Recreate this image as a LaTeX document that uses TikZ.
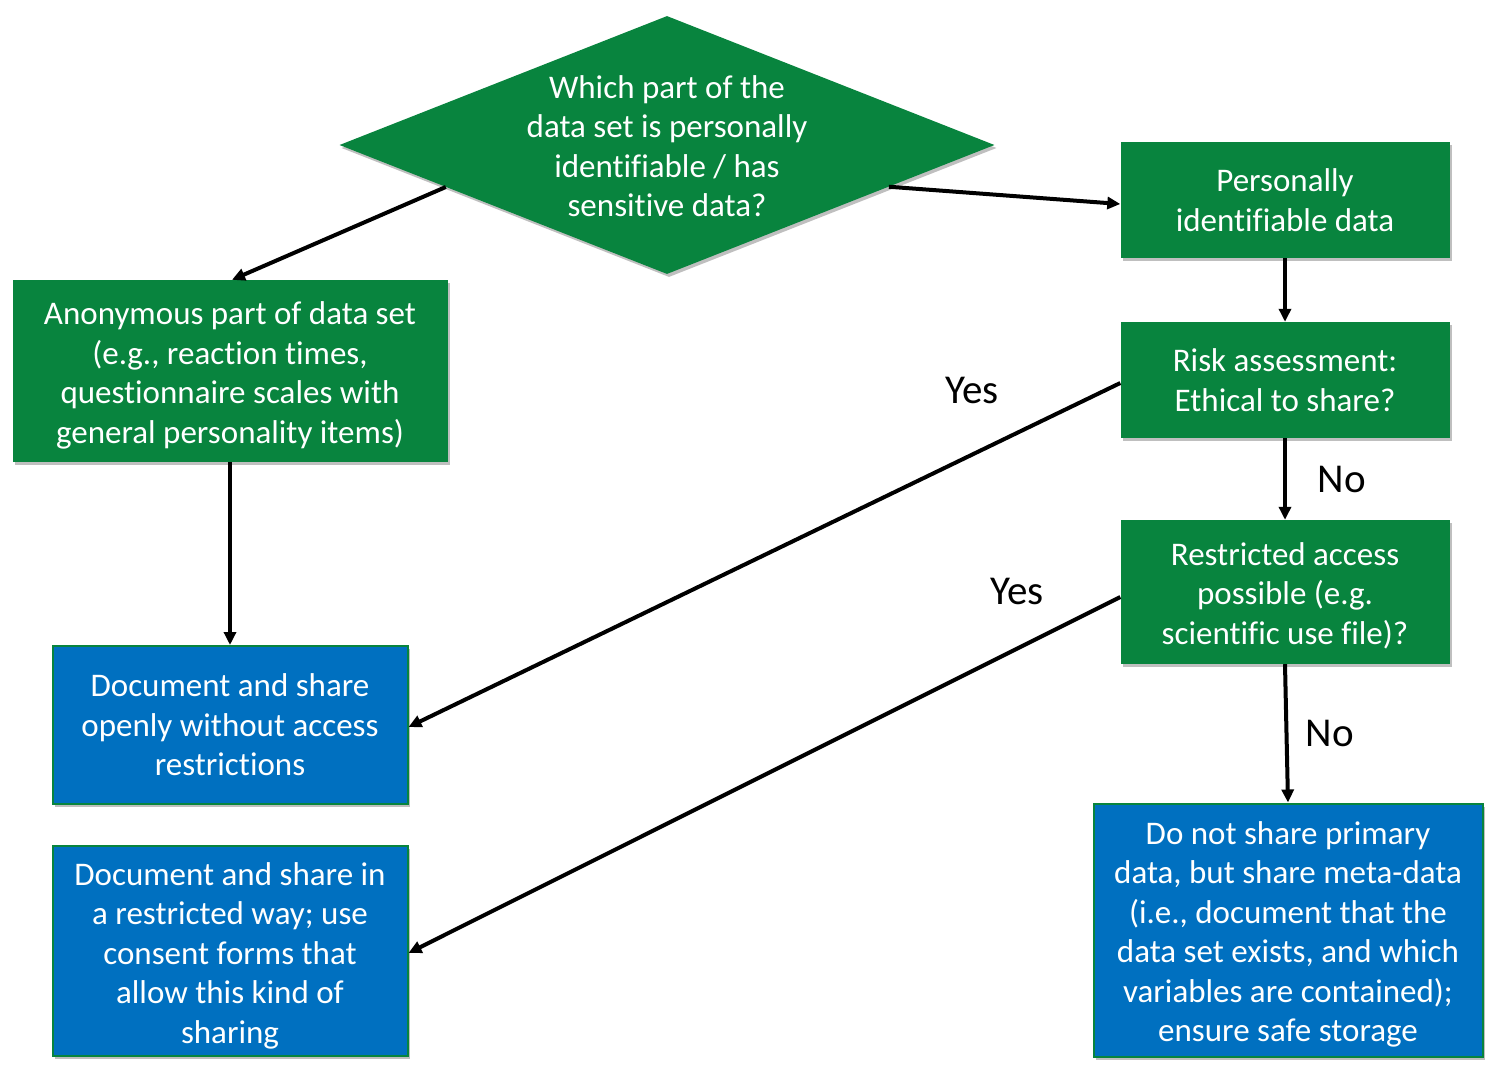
\documentclass[tikz,border=0pt]{standalone}
\usepackage{fontspec}
\setmainfont{Carlito}[Ligatures={NoCommon}]
\usetikzlibrary{shapes.geometric,arrows.meta,shadows,calc}
\definecolor{fgreen}{RGB}{8,132,62}
\definecolor{fblue}{RGB}{0,112,192}
\newcommand{\tstrut}[1]{\rule{0pt}{#1}}
\tikzset{
  box/.style={rectangle, inner sep=0pt, align=center, text=white,
    font=\fontsize{33}{39.5}\selectfont,
    drop shadow={shadow xshift=2pt, shadow yshift=-3pt, opacity=0.25, fill=black}},
  greenbox/.style={box, fill=fgreen},
  bluebox/.style={box, fill=fblue, draw=fgreen, line width=2pt},
  conn/.style={line width=4pt, -{Triangle[length=13pt,width=12pt]}},
  lbl/.style={font=\fontsize{41}{44}\selectfont, text=black}
}
\begin{document}
\begin{tikzpicture}[x=1pt,y=-1pt]
\useasboundingbox (0,0) rectangle (1499,1077);
% decision diamond
\node[diamond, fill=fgreen, minimum width=655pt, minimum height=258pt, inner sep=0pt,
  drop shadow={shadow xshift=2pt, shadow yshift=-3pt, opacity=0.25, fill=black}] (q) at (667,145) {};
\node[align=center, text=white, font=\fontsize{33}{39.5}\selectfont] (qt) at (667,146)
  {Which part of the\\data set is personally\\identifiable / has\\sensitive data?};
% boxes
\node[greenbox, minimum width=329pt, minimum height=116pt] (pi) at (1285,200)
  {Personally\\identifiable data};
\node[greenbox, minimum width=435pt, minimum height=182pt] (anon) at (230,371)
  {\tstrut{32pt}Anonymous part of data set\\(e.g., reaction times,\\questionnaire scales with\\general personality items)};
\node[greenbox, minimum width=329pt, minimum height=116pt] (risk) at (1285,380)
  {Risk assessment:\\Ethical to share?};
\node[greenbox, minimum width=329pt, minimum height=144pt] (rest) at (1285,592)
  {\tstrut{30pt}Restricted access\\possible (e.g.\\scientific use file)?};
\node[bluebox, minimum width=355pt, minimum height=158pt] (open) at (230,725)
  {Document and share\\openly without access\\restrictions};
\node[bluebox, minimum width=355pt, minimum height=210pt] (restr) at (230,951)
  {\tstrut{32pt}Document and share in\\a restricted way; use\\consent forms that\\allow this kind of\\sharing};
\node[bluebox, minimum width=389pt, minimum height=253pt] (dns) at (1288,930)
  {\tstrut{32pt}Do not share primary\\data, but share meta-data\\(i.e., document that the\\data set exists, and which\\variables are contained);\\ensure safe storage};
% connectors
\coordinate (qsw) at ($(q.west)!0.325!(q.south)$);
\coordinate (qse) at ($(q.east)!0.323!(q.south)$);
\draw[conn] (qsw) -- ($(anon.north)+(2,0)$);
\draw[conn] (qse) -- ($(pi.west)+(0,4)$);
\draw[conn] (pi.south) -- (risk.north);
\draw[conn] ($(risk.west)+(0,3)$) -- ($(open.east)+(0,2)$);
\draw[conn] (risk.south) -- (rest.north);
\draw[conn] ($(rest.west)+(0,5)$) -- ($(restr.east)+(0,2)$);
\draw[conn] (rest.south) -- (dns.north);
\draw[conn] (anon.south) -- (open.north);
% labels
\node[lbl] (y1) at (972,390) {Yes};
\node[lbl] (n1) at (1342,479) {No};
\node[lbl] (y2) at (1017,591) {Yes};
\node[lbl] (n2) at (1330,733) {No};
\end{tikzpicture}
\end{document}
